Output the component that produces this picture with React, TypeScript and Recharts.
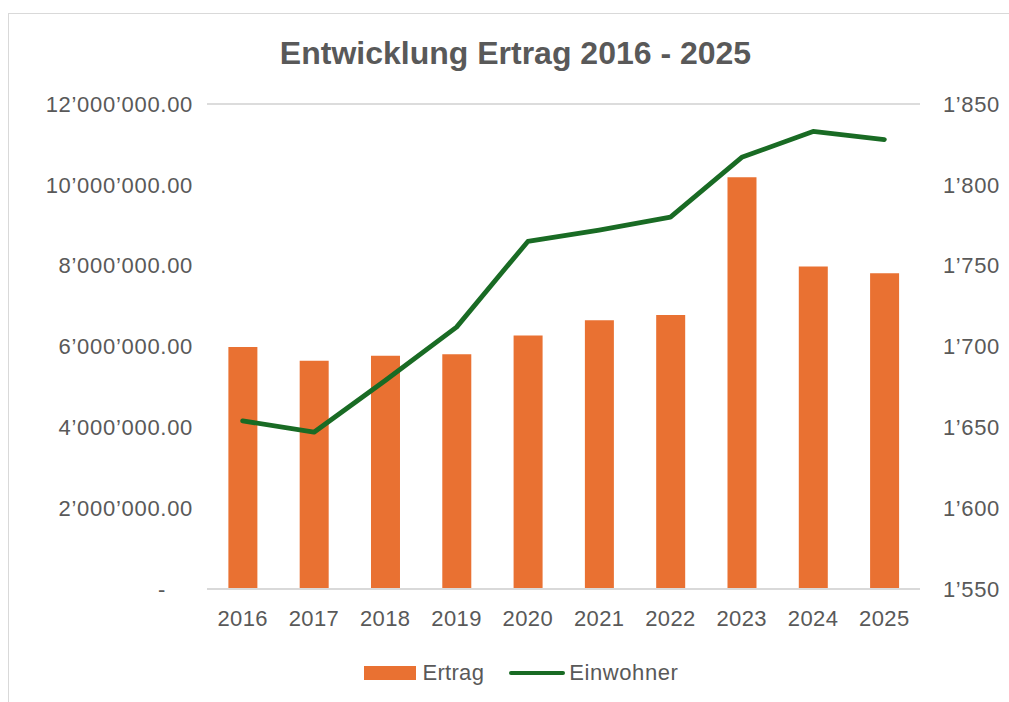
import React from 'react'
import { ComposedChart, Bar, Line, XAxis, YAxis, CartesianGrid, Legend } from 'recharts'

// Werte
const years = ['2016', '2017', '2018', '2019', '2020', '2021', '2022', '2023', '2024', '2025']
const ertrag = [5990000, 5650000, 5770000, 5810000, 6270000, 6650000, 6780000, 10190000, 7980000, 7810000]
const einwohner = [1654, 1647, 1679, 1712, 1765, 1772, 1780, 1817, 1833, 1828]
const ertragTicks = [0, 2000000, 4000000, 6000000, 8000000, 10000000, 12000000]
const einwohnerTicks = [1550, 1600, 1650, 1700, 1750, 1800, 1850]

const data = years.map((year, i) => ({ year, ertrag: ertrag[i], einwohner: einwohner[i] }))

const ORANGE = '#E97132'
const GREEN = '#196B24'
const TEXT = '#595959'
const FONT = '"Liberation Sans", Arial, sans-serif'

const group = (v: number) => Math.round(v).toString().replace(/\B(?=(\d{3})+(?!\d))/g, '\u2019')

function LeftTick(props: any) {
  const { x, y, payload } = props
  const zero = payload.value === 0
  return (
    <text x={zero ? x - 27 : x} y={y} dy="0.355em" textAnchor="end" fill={TEXT} fontSize={22} fontFamily={FONT} letterSpacing={0.7}>
      {zero ? '-' : group(payload.value) + '.00'}
    </text>
  )
}

function LegendContent() {
  return (
    <div style={{ display: 'flex', justifyContent: 'center', alignItems: 'center', height: 30, paddingLeft: 34, fontFamily: FONT, fontSize: 22, color: TEXT }}>
      <span style={{ display: 'inline-block', width: 52, height: 14, background: ORANGE, marginRight: 6 }} />
      <span style={{ letterSpacing: 0.3 }}>Ertrag</span>
      <span style={{ display: 'inline-block', width: 56, height: 4.5, borderRadius: 3, background: GREEN, marginLeft: 25, marginRight: 4 }} />
      <span style={{ letterSpacing: 0.6 }}>Einwohner</span>
    </div>
  )
}

export default function App() {
  return (
    <div style={{ position: 'fixed', left: 0, top: 0, width: 1009, height: 702, background: '#fff' }}>
      <div style={{ position: 'absolute', left: 8, top: 13, width: 1010, height: 700, border: '1px solid #d9d9d9', boxSizing: 'border-box' }} />
      <div style={{ position: 'absolute', left: 0, top: 37, width: 1031, textAlign: 'center', fontFamily: FONT, fontWeight: 'bold', fontSize: 32, lineHeight: '32px', color: TEXT }}>
        Entwicklung Ertrag 2016 - 2025
      </div>
      <div style={{ position: 'absolute', left: 0, top: 0 }}>
        <ComposedChart
          width={1009}
          height={702}
          data={data}
          barCategoryGap="30%"
          margin={{ top: 104, right: 9, left: 10, bottom: 38 }}
        >
          <CartesianGrid vertical={false} stroke="#dcdcdc" strokeWidth={2} />
          <XAxis
            dataKey="year"
            height={45}
            tickSize={0}
            tickMargin={21}
            axisLine={{ stroke: '#d9d9d9', strokeWidth: 2 }}
            tick={{ fill: TEXT, fontSize: 22, fontFamily: FONT, letterSpacing: 0.4 }}
          />
          <YAxis
            yAxisId="left"
            width={197}
            domain={[0, 12000000]}
            ticks={ertragTicks}
            tickSize={0}
            tickMargin={14}
            axisLine={false}
            tick={<LeftTick />}
          />
          <YAxis
            yAxisId="right"
            orientation="right"
            width={80}
            domain={[1550, 1850]}
            ticks={einwohnerTicks}
            tickSize={0}
            tickMargin={23}
            axisLine={false}
            tickFormatter={group}
            tick={{ fill: TEXT, fontSize: 22, fontFamily: FONT, textAnchor: 'start', letterSpacing: 0.6 }}
          />
          <Legend
            verticalAlign="bottom"
            content={<LegendContent />}
            wrapperStyle={{ top: 658, bottom: 'auto', left: 0, width: 1009, height: 30 }}
          />
          <Bar yAxisId="left" dataKey="ertrag" name="Ertrag" fill={ORANGE} isAnimationActive={false} />
          <Line
            yAxisId="right"
            dataKey="einwohner"
            name="Einwohner"
            stroke={GREEN}
            strokeWidth={4.8}
            strokeLinecap="round"
            strokeLinejoin="round"
            dot={false}
            activeDot={false}
            isAnimationActive={false}
          />
        </ComposedChart>
      </div>
    </div>
  )
}
